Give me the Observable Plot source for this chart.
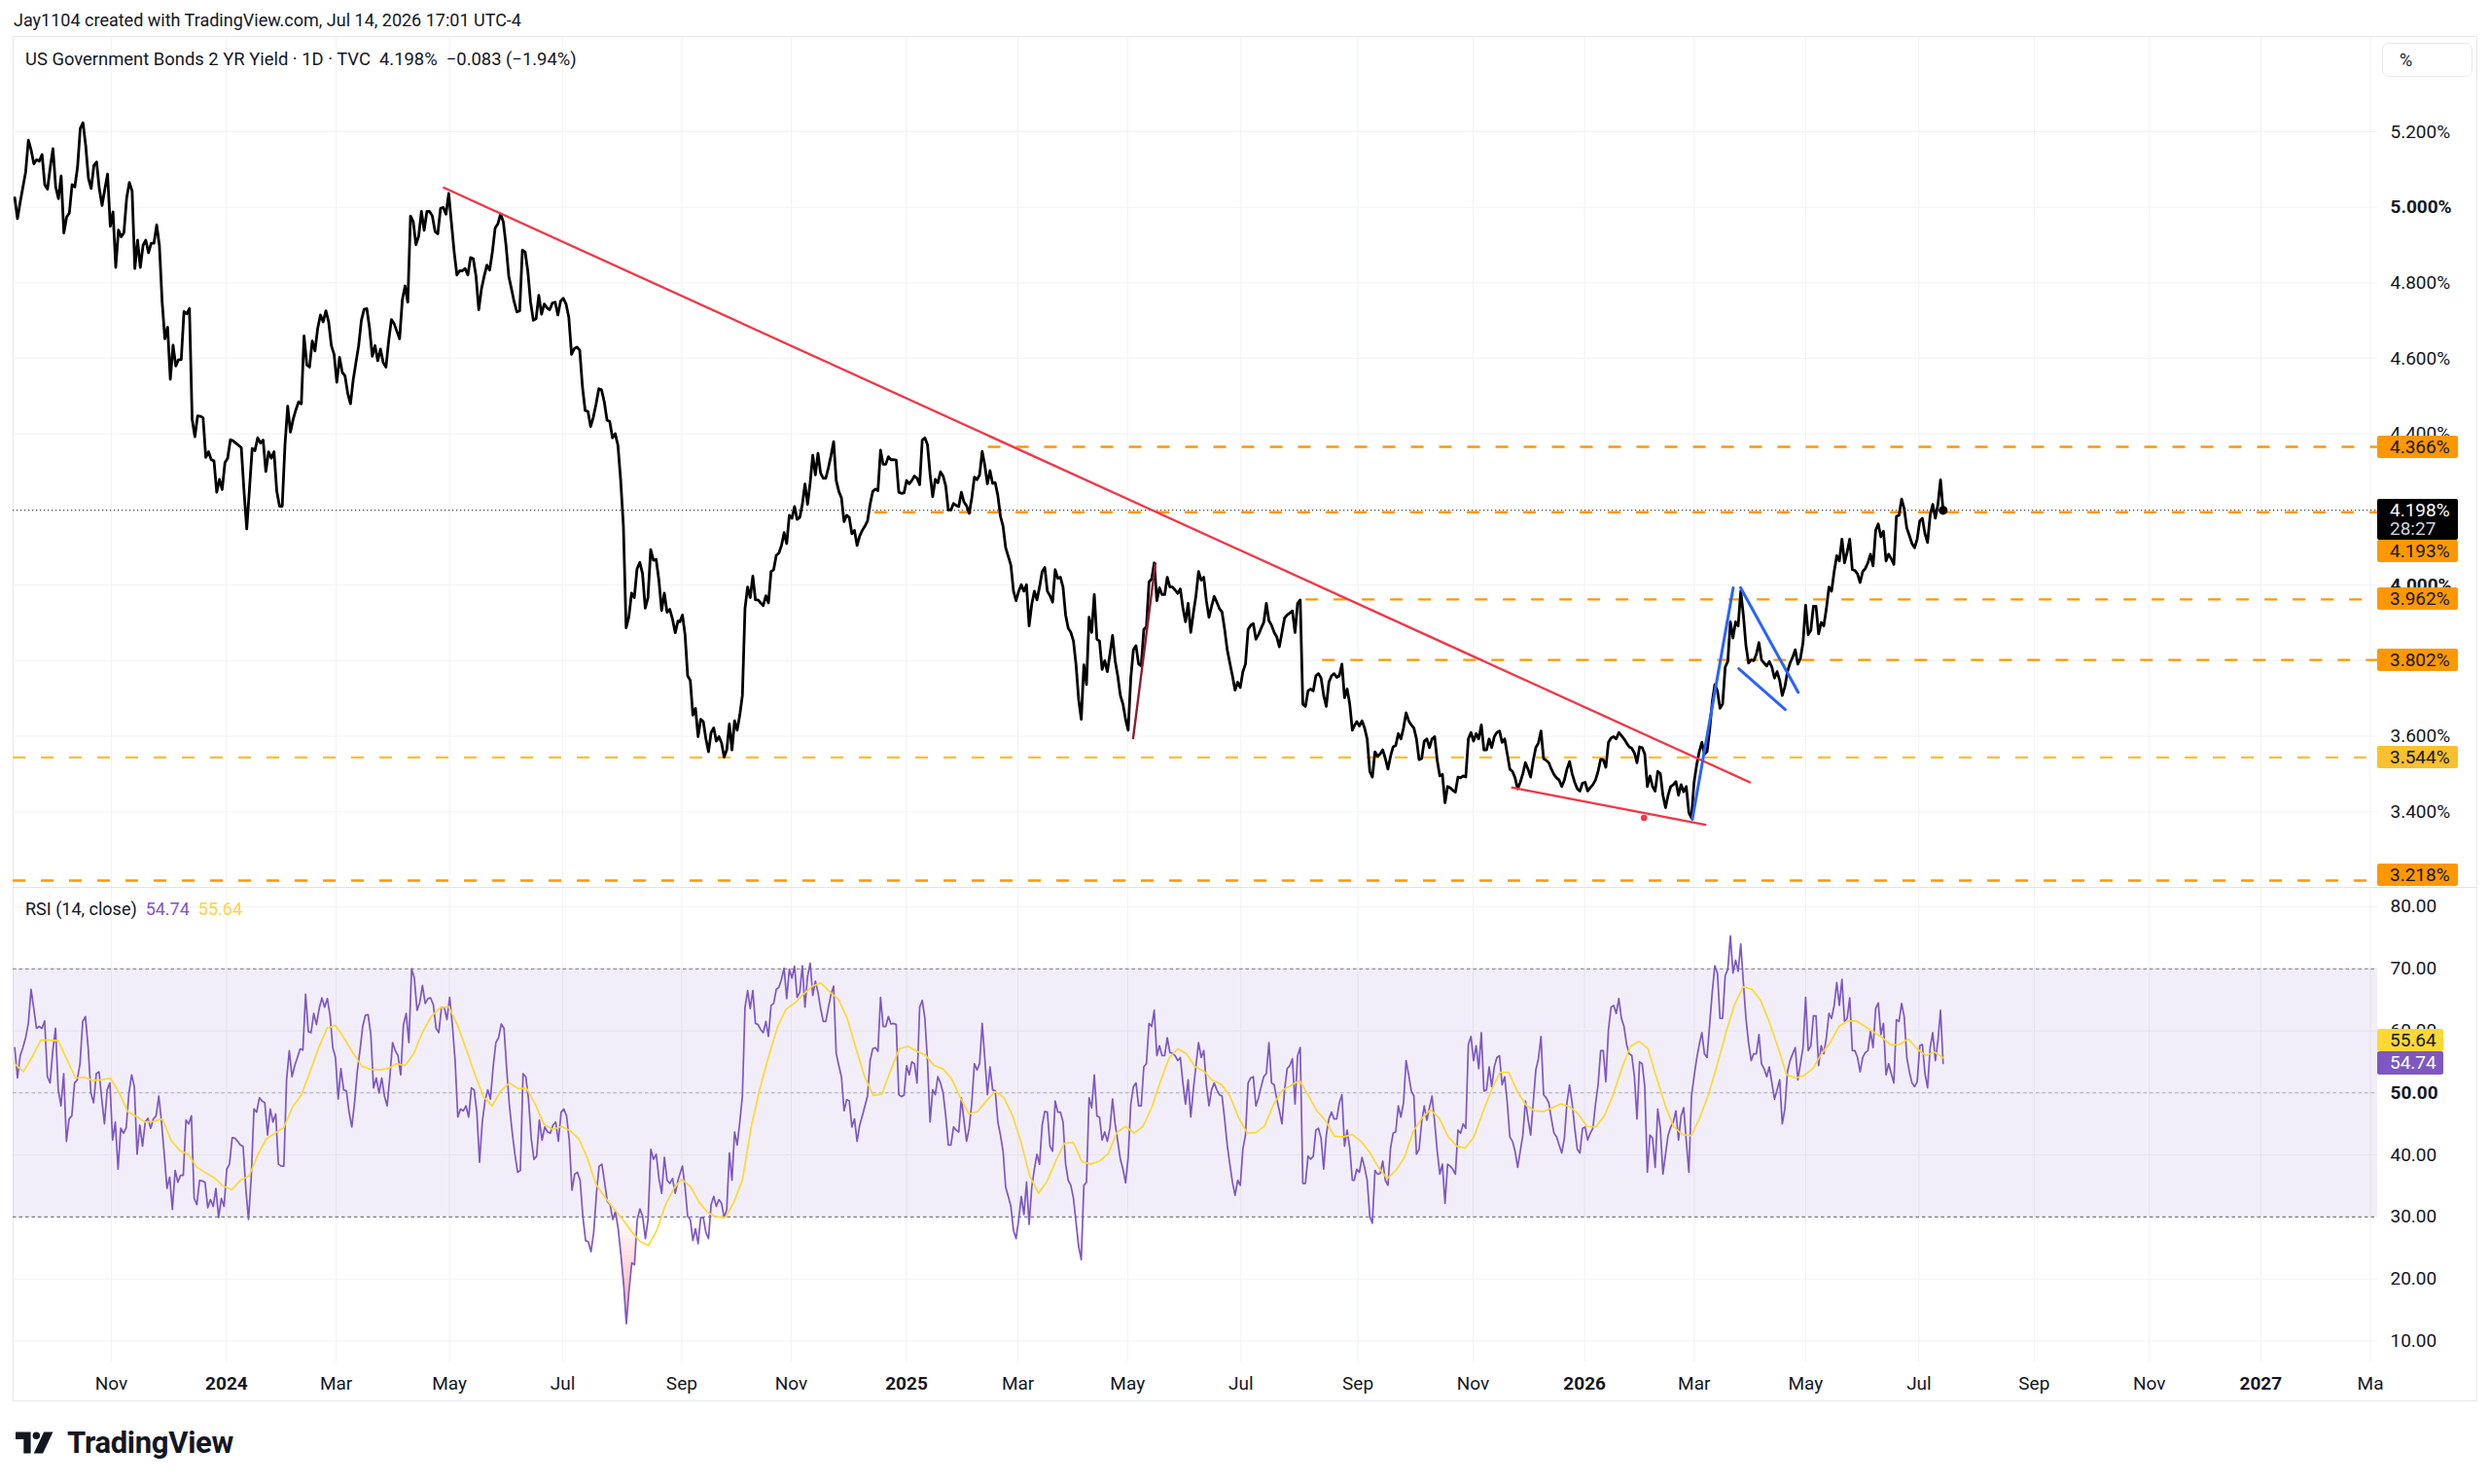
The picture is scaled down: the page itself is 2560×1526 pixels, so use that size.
<!DOCTYPE html>
<html>
<head>
<meta charset="utf-8">
<script src="https://cdn.jsdelivr.net/npm/d3@7"></script>
<script src="https://cdn.jsdelivr.net/npm/@observablehq/plot@0.6"></script>
<style>
html,body{margin:0;padding:0;background:#fff;}
body{width:2560px;height:1526px;position:relative;overflow:hidden;font-family:Roboto,"Noto Sans",sans-serif;color:#131722;}
.abs{position:absolute;}
#credit{left:14px;top:9px;font-size:18px;line-height:24px;white-space:nowrap;}
#frame{left:13px;top:37px;width:2534px;height:1404px;border:1px solid #e6e8ee;box-sizing:border-box;}
#legend{left:26px;top:49px;font-size:18.4px;line-height:24px;white-space:nowrap;}
#rsiLegend{left:26px;top:923px;font-size:18px;line-height:24px;white-space:nowrap;}
#pctBox{left:2449px;top:44px;width:93px;height:35px;border:1px solid #e6e8ee;border-radius:7px;box-sizing:border-box;font-size:18px;line-height:33px;padding-left:17px;}
#sep{left:13px;top:912px;width:2534px;height:0;border-top:1px solid #e0e3eb;}
.badge{position:absolute;left:2444px;width:83px;height:23px;line-height:23px;font-size:19px;padding-left:13px;box-sizing:border-box;border-radius:2px;white-space:nowrap;}
#logo{left:16px;top:1469px;}
#logoText{left:69px;top:1465px;font-size:31px;font-weight:700;line-height:38px;letter-spacing:-0.3px;}
svg{overflow:visible;}
</style>
</head>
<body>
<div id="credit" class="abs">Jay1104 created with TradingView.com, Jul 14, 2026 17:01 UTC-4</div>
<div id="frame" class="abs"></div>
<div id="mainWrap" class="abs" style="left:13px;top:37px;"></div>
<div id="rsiWrap" class="abs" style="left:13px;top:912px;"></div>
<div id="sep" class="abs"></div>
<div id="legend" class="abs">US Government Bonds 2 YR Yield · 1D · TVC&nbsp; 4.198%&nbsp; −0.083 (−1.94%)</div>
<div id="rsiLegend" class="abs">RSI (14, close)&nbsp; <span style="color:#7e57c2">54.74</span>&nbsp; <span style="color:#f9d34a">55.64</span></div>
<div id="pctBox" class="abs">%</div>
<svg id="logo" class="abs" width="52" height="28" viewBox="0 0 50 26">
  <path d="M0 3 H15 V24 H8 V10 H0 Z" fill="#131722"/>
  <circle cx="20.5" cy="6.5" r="3.6" fill="#131722"/>
  <path d="M28 3 H37 L27 24 H18 Z" fill="#131722"/>
</svg>
<div id="logoText" class="abs">TradingView</div>
<script>
// ---------- DATA ----------
// daily closes of the US 2Y yield (%), in three segments with their date spans
const priceSeg1 = [5.025,4.97,5.014,5.054,5.094,5.178,5.152,5.115,5.126,5.122,5.14,5.06,5.048,5.106,5.155,5.054,5.023,5.083,4.932,4.974,4.985,5.06,5.054,5.106,5.209,5.224,5.163,5.077,5.05,5.111,5.12,5.048,5.005,5.048,5.088,4.95,4.988,4.841,4.94,4.922,4.933,5.025,5.066,5.043,4.838,4.913,4.841,4.899,4.913,4.88,4.905,4.905,4.954,4.899,4.75,4.652,4.683,4.545,4.635,4.58,4.597,4.597,4.724,4.718,4.732,4.439,4.393,4.448,4.447,4.443,4.338,4.353,4.332,4.329,4.246,4.28,4.253,4.324,4.336,4.385,4.382,4.376,4.37,4.364,4.249,4.149,4.255,4.362,4.356,4.39,4.376,4.384,4.301,4.353,4.336,4.353,4.249,4.209,4.209,4.37,4.474,4.405,4.439,4.464,4.485,4.48,4.66,4.583,4.577,4.646,4.62,4.68,4.715,4.697,4.726,4.697,4.634,4.611,4.537,4.603,4.563,4.554,4.508,4.48,4.543,4.589,4.634,4.701,4.73,4.732,4.68,4.606,4.634,4.594,4.625,4.589,4.577,4.646,4.703,4.692,4.672,4.652,4.755,4.792,4.749,4.977,4.962,4.901,4.924,4.989,4.939,4.989,4.989,4.977,4.936,4.93,4.997,5.0,4.982,5.037,4.959,4.882,4.821,4.832,4.832,4.838,4.821,4.867,4.864,4.818,4.729,4.784,4.818,4.847,4.834,4.882,4.945,4.956,4.982,4.962,4.899,4.818,4.784,4.749,4.723,4.726,4.887,4.882,4.83,4.749,4.701,4.705,4.767,4.717,4.744,4.734,4.729,4.747,4.749,4.715,4.752,4.759,4.744,4.709,4.611,4.626,4.63,4.622,4.525,4.462,4.46,4.42,4.445,4.48,4.52,4.517,4.485,4.437,4.433,4.39,4.401,4.37,4.278,4.157,3.887,3.916,3.979,3.967,4.043,4.06,4.031,3.939,3.967,4.094,4.066,4.068,4.014,3.933,3.979,3.928,3.936,3.91,3.874,3.905];
const priceSeg2 = [3.903,3.921,3.869,3.76,3.748,3.656,3.674,3.599,3.645,3.639,3.593,3.559,3.61,3.622,3.587,3.599,3.582,3.545,3.564,3.633,3.564,3.641,3.616,3.656,3.708,3.938,3.995,3.967,4.024,3.961,3.961,3.953,3.946,3.972,3.953,4.036,4.041,4.079,4.085,4.105,4.139,4.11,4.185,4.177,4.208,4.174,4.179,4.214,4.268,4.214,4.271,4.344,4.292,4.349,4.297,4.283,4.283,4.311,4.343,4.38,4.277,4.248,4.231,4.168,4.185,4.179,4.136,4.145,4.105,4.13,4.145,4.156,4.17,4.214,4.248,4.254,4.25,4.357,4.32,4.32,4.34,4.332,4.332,4.331,4.246,4.243,4.244,4.277,4.268,4.277,4.289,4.283,4.266,4.384,4.39,4.372,4.294,4.234,4.28,4.271,4.3,4.289,4.263,4.199,4.199,4.216,4.211,4.208,4.246,4.22,4.21,4.19,4.231,4.286,4.279,4.292,4.354,4.317,4.268,4.303,4.269,4.271,4.237,4.182,4.156,4.099,4.076,4.053,3.984,3.959,3.984,4.001,3.984,4.001,3.892,3.949,3.984,3.961,3.995,4.036,4.047,3.984,3.972,3.955,4.041,4.018,4.021,3.995,3.921,3.886,3.875,3.852,3.789,3.697,3.645,3.789,3.737,3.915,3.875,3.975,3.857,3.852,3.777,3.8,3.771,3.817,3.867,3.8,3.76,3.708,3.685,3.645,3.616,3.754,3.829,3.84,3.791,3.786,3.883,3.89,4.009,4.016,4.059,3.959,3.993,3.975,3.975,4.021,3.995,3.995,3.987,3.978,3.99,3.94,3.903,3.952,3.875,3.926,3.972,4.036,4.013,4.021,3.959,3.915,3.944,3.97,3.955,3.938,3.929,3.883,3.829,3.794,3.76,3.722,3.743,3.729,3.771,3.791,3.883,3.894,3.898,3.857,3.869,3.886,3.901,3.952,3.906,3.894,3.875,3.863,3.837,3.875,3.913,3.921,3.926,3.932,3.875,3.952,3.961,3.685,3.679,3.72,3.725,3.72,3.76,3.766,3.754,3.708,3.679,3.743,3.76,3.766,3.756,3.76,3.791,3.702,3.725,3.685,3.616];
const priceSeg3 = [3.627,3.639,3.627,3.641,3.622,3.593,3.507,3.492,3.559,3.547,3.553,3.564,3.541,3.513,3.547,3.572,3.576,3.607,3.593,3.622,3.662,3.641,3.63,3.622,3.593,3.538,3.541,3.587,3.593,3.57,3.593,3.599,3.536,3.495,3.499,3.424,3.467,3.464,3.457,3.452,3.492,3.49,3.495,3.492,3.593,3.61,3.587,3.607,3.593,3.63,3.564,3.564,3.593,3.57,3.599,3.61,3.614,3.584,3.593,3.553,3.513,3.507,3.49,3.461,3.478,3.501,3.53,3.513,3.492,3.536,3.57,3.582,3.614,3.541,3.536,3.53,3.513,3.499,3.49,3.484,3.467,3.484,3.513,3.533,3.501,3.478,3.461,3.455,3.476,3.478,3.455,3.464,3.472,3.484,3.507,3.539,3.538,3.518,3.584,3.595,3.599,3.593,3.61,3.602,3.593,3.582,3.572,3.568,3.556,3.53,3.572,3.57,3.553,3.467,3.495,3.467,3.455,3.507,3.501,3.444,3.411,3.444,3.467,3.472,3.48,3.444,3.472,3.453,3.467,3.398,3.384,3.478,3.524,3.559,3.584,3.553,3.559,3.616,3.691,3.737,3.72,3.674,3.685,3.783,3.798,3.903,3.86,3.903,3.892,3.984,3.921,3.84,3.794,3.802,3.8,3.817,3.848,3.802,3.794,3.786,3.798,3.783,3.754,3.771,3.748,3.708,3.731,3.771,3.794,3.809,3.829,3.791,3.806,3.848,3.947,3.869,3.88,3.944,3.944,3.871,3.901,3.892,3.938,3.995,3.984,4.036,4.078,4.064,4.122,4.059,4.087,4.122,4.041,4.039,4.03,4.007,4.036,4.044,4.059,4.082,4.051,4.145,4.162,4.128,4.143,4.064,4.082,4.07,4.055,4.182,4.185,4.228,4.202,4.151,4.131,4.11,4.099,4.122,4.17,4.177,4.136,4.113,4.185,4.214,4.177,4.214,4.279,4.198];
const priceSpans = [["2023-09-10","2024-09-01"],["2024-09-02","2025-08-30"],["2025-08-31","2026-07-14"]];

// RSI(14) and its moving average
const rsiSeg1 = [57.3,52.4,56.0,57.3,58.9,61.2,66.7,63.6,60.4,60.7,60.4,61.6,52.6,51.6,56.8,60.4,50.5,47.9,53.1,42.2,45.8,46.3,51.6,52.1,54.7,61.5,62.3,57.3,50.0,48.4,53.1,53.4,49.0,45.0,50.5,51.6,42.4,45.3,37.7,44.3,43.5,44.4,50.0,52.9,51.0,40.1,44.8,41.4,45.3,45.9,44.3,45.8,46.3,49.5,45.3,40.1,34.6,36.4,31.2,37.5,35.6,36.7,36.7,45.6,45.0,46.3,33.0,32.0,35.9,35.8,35.6,31.5,32.8,31.7,34.6,29.9,33.0,31.7,37.7,38.5,42.8,42.7,42.2,41.6,41.4,34.6,29.6,36.4,47.4,46.9,49.2,48.7,48.4,43.2,47.4,45.3,46.6,38.5,38.2,38.2,52.1,56.8,52.6,54.4,55.7,57.1,56.9,65.9,59.9,59.7,62.8,61.0,63.6,65.3,63.8,65.2,62.5,57.3,55.7,49.0,53.9,50.5,50.3,46.9,44.5,48.4,53.4,56.8,60.7,62.5,62.6,59.4,50.8,52.4,50.0,52.4,49.5,47.9,52.6,58.1,56.8,56.0,52.9,61.0,62.8,58.1,70.0,68.5,63.3,64.6,67.3,64.4,65.2,65.3,64.2,60.4,59.7,63.8,63.8,61.8,65.4,61.0,55.2,46.1,47.4,47.1,47.9,46.1,50.8,50.5,46.9,38.8,45.3,48.7,50.5,49.0,54.2,58.1,58.9,61.1,60.4,53.7,47.9,43.7,40.1,37.2,37.5,53.1,52.6,49.0,42.7,39.3,39.8,45.6,42.4,44.5,43.7,43.5,44.8,45.3,42.2,46.9,47.4,46.3,42.4,34.3,36.9,37.2,35.9,30.1,26.2,26.0,24.4,27.5,33.8,38.2,38.5,35.6,32.5,32.0,29.6,30.9,28.1,23.9,19.2,12.8,18.2,22.6,22.3,29.6,31.3,30.1,26.5,29.6,40.9,39.3,40.1,36.2,33.8,39.6,35.9,35.4,36.2,33.8,35.9];
const rsiSeg2 = [36.9,38.2,34.8,30.1,29.6,26.2,28.1,25.7,29.9,29.9,27.5,26.5,32.0,33.3,31.7,32.8,32.2,29.9,31.2,40.3,35.9,43.7,41.6,45.3,49.5,63.8,66.5,63.6,66.5,61.2,61.0,60.2,59.7,61.5,59.1,64.1,64.4,66.7,67.0,68.3,70.1,65.2,69.9,68.5,70.4,65.4,66.2,70.5,63.8,68.8,70.9,65.7,68.0,66.2,63.6,61.5,61.5,63.8,65.9,67.2,56.3,54.4,52.6,47.1,48.9,48.7,44.5,45.8,42.2,44.8,46.3,47.9,49.5,55.2,57.1,57.3,56.7,65.4,60.7,60.7,62.3,61.1,61.2,61.0,49.7,49.4,49.6,54.4,52.9,55.0,54.7,51.6,63.8,64.9,62.0,55.2,45.3,50.5,49.7,52.6,51.6,50.0,46.3,41.6,41.6,44.5,44.0,43.7,49.2,45.6,42.2,44.3,48.4,54.7,53.7,54.7,61.2,55.5,49.7,54.2,50.5,50.3,45.3,43.2,40.6,34.8,33.3,31.7,27.8,26.5,29.6,33.3,30.4,35.6,28.8,34.8,37.7,40.1,38.5,44.8,47.0,46.9,41.4,40.6,48.7,46.9,46.9,45.3,38.5,35.9,35.1,33.0,29.1,25.2,23.1,35.1,35.6,49.2,47.6,52.9,46.3,46.1,42.4,43.7,42.2,44.3,49.0,45.0,42.2,39.3,37.7,35.5,39.6,48.2,51.0,51.6,47.9,47.9,54.2,54.7,61.2,60.7,63.3,56.0,57.6,56.0,56.0,58.9,56.5,56.4,56.0,55.2,55.7,51.6,48.2,52.1,46.1,50.5,54.4,58.1,55.7,56.8,51.3,47.9,50.5,51.6,50.5,49.7,49.5,45.8,41.6,38.5,35.6,33.5,35.9,35.1,40.9,43.2,51.6,52.4,52.6,47.9,49.2,51.0,52.6,53.1,58.1,51.6,51.3,49.0,47.1,45.0,50.5,53.9,54.4,55.5,48.2,56.0,57.3,35.4,35.4,39.8,39.3,39.8,44.0,44.3,42.7,37.7,43.2,45.8,46.9,45.8,45.8,48.4,49.7,41.4,44.0,41.1,35.9];
const rsiSeg3 = [35.9,37.7,37.2,39.6,38.0,35.9,30.1,29.0,37.5,36.9,37.0,39.0,35.9,35.1,41.1,43.5,43.7,47.9,46.1,48.4,55.2,52.9,50.3,49.5,40.1,40.9,45.3,47.9,45.6,47.6,49.5,45.3,40.6,36.9,38.5,32.2,38.5,38.2,37.7,36.9,44.0,43.5,45.0,44.3,57.8,59.1,55.2,57.6,53.9,59.7,50.3,50.5,54.2,51.0,54.2,55.7,56.0,51.3,52.6,48.4,42.9,42.2,40.6,38.0,40.6,43.2,48.7,45.8,43.2,48.4,53.7,55.5,59.1,49.7,49.2,48.4,45.8,43.5,42.9,41.6,40.3,42.7,48.4,51.3,48.4,44.3,40.9,40.3,44.3,44.5,42.4,43.5,44.3,48.2,51.3,56.8,56.8,51.8,60.2,63.8,64.1,62.8,65.2,62.0,60.7,57.8,56.3,56.0,52.6,45.8,55.0,54.7,51.0,37.2,43.2,42.7,38.0,47.4,44.3,36.9,40.1,43.2,44.5,45.3,47.1,42.4,46.3,47.6,42.2,37.2,49.5,52.6,55.5,57.8,59.7,56.3,55.7,61.0,66.2,70.5,69.3,62.0,62.0,68.9,69.9,75.3,69.3,71.4,69.6,74.0,67.8,62.0,58.1,55.2,56.3,56.3,59.4,54.7,53.9,52.6,54.2,51.6,49.0,50.5,52.1,45.0,47.4,53.4,55.2,56.3,57.3,52.1,54.7,57.3,65.4,56.8,57.6,62.4,62.4,54.4,57.6,56.3,58.9,62.8,62.0,64.1,67.8,64.1,68.3,61.5,62.0,65.3,56.8,56.8,55.7,53.4,55.7,56.5,56.8,59.9,57.3,63.6,64.5,59.4,61.2,52.9,54.7,53.1,51.6,61.8,61.5,64.4,62.3,55.7,53.4,51.6,51.0,51.8,57.6,57.8,53.1,50.8,57.3,59.7,55.2,58.4,63.3,54.74];
const rsiSpans = [["2023-09-10","2024-09-01"],["2024-09-02","2025-08-30"],["2025-08-31","2026-07-14"]];
const maSeg1 = [54.7,53.4,55.8,58.5,58.5,58.4,55.4,52.4,52.5,52.0,52.1,52.4,50.1,47.0,46.2,45.3,45.4,45.8,42.4,40.7,40.1,38.0,37.1,36.3,35.0,34.4,35.9,36.6,40.0,42.6,43.5,44.4,47.7,49.6,53.3,57.2,60.5,60.8,58.7,56.4,54.3,53.8,53.7,53.9,54.7,54.4,56.4,59.8,62.3,63.7,63.9,61.0,57.1,53.1,49.4,47.9,50.3,51.6,50.7,50.7,48.1,44.9,44.1,44.6,43.9,42.6,39.4,35.2,33.2,31.4,29.7,27.8,26.1,25.4,27.9,32.0,34.7];
const maSeg2 = [36.1,34.9,32.4,30.7,30.0,29.9,32.4,36.1,44.6,50.8,55.9,60.6,63.5,64.5,65.9,67.2,67.7,66.3,65.1,62.1,57.3,52.7,49.6,49.8,53.6,57.1,57.5,56.7,56.1,54.4,53.9,52.3,49.3,46.6,47.0,48.7,50.2,49.3,46.4,42.0,36.6,33.8,35.8,39.1,41.9,42.0,38.9,38.5,39.0,40.2,43.6,44.6,43.5,44.6,47.6,51.8,55.6,57.1,56.3,54.2,53.5,52.0,51.4,49.5,46.0,43.5,43.6,44.7,48.1,50.4,51.2,52.0,49.6,47.1,45.5,43.0,42.9];
const maSeg3 = [43.3,42.2,40.4,38.0,36.2,37.5,39.6,43.8,45.9,47.3,45.9,43.0,41.4,41.1,42.9,46.8,50.4,53.3,53.3,50.2,48.0,47.1,47.0,47.6,48.2,47.8,46.6,44.6,44.5,46.3,49.6,53.9,57.5,58.3,57.2,52.5,48.0,44.5,43.3,43.1,46.0,49.8,54.5,59.7,64.3,67.1,66.7,64.9,61.4,57.3,52.9,52.4,52.8,53.9,56.3,58.1,60.7,61.6,61.6,60.7,59.8,58.9,57.7,57.8,58.7,57.1,56.0,56.6,55.64];
const maSpans = [["2023-09-10","2024-08-30"],["2024-09-03","2025-08-25"],["2025-08-30","2026-07-14"]];

// horizontal levels drawn on the chart
const levelValues = [4.366, 4.193, 3.962, 3.802, 3.544, 3.218];
const levelStarts = ["2025-02-15", "2024-12-16", "2025-08-05", "2025-08-14", null, null];
const levelColors = ["#ff9800", "#ff9800", "#ff9800", "#ff9800", "#fbc02d", "#ff9800"];
const lastClose = 4.198;
const lastCountdown = "28:27";

// drawings
const redTrendUpper = [["2024-04-28", 5.052], ["2026-04-01", 3.478]];
const redTrendLower = [["2025-11-24", 3.464], ["2026-03-08", 3.366]];
const maroonLine = [["2025-05-04", 3.595], ["2025-05-16", 4.058]];
const blueLine1 = [["2026-03-01", 3.380], ["2026-03-23", 3.993]];
const blueLine2 = [["2026-03-27", 3.993], ["2026-04-27", 3.716]];
const blueLine3 = [["2026-03-26", 3.779], ["2026-04-20", 3.671]];
const redDot = [["2026-02-03", 3.384]];

// axes
const priceTicks = [3.4, 3.6, 3.8, 4.0, 4.2, 4.4, 4.6, 4.8, 5.0, 5.2];
const boldPriceTicks = [4.0, 5.0];
const rsiTicks = [10, 20, 30, 40, 50, 60, 70, 80];
const rsiBands = [30, 70];
const rsiMid = 50;
const rsiLast = 54.74, rsiMaLast = 55.64;
const tickDates = ["2023-11-01","2024-01-02","2024-03-01","2024-05-01","2024-07-01","2024-09-03","2024-11-01","2025-01-02","2025-03-03","2025-05-01","2025-07-01","2025-09-02","2025-11-03","2026-01-02","2026-03-02","2026-05-01","2026-07-01","2026-09-01","2026-11-02","2027-01-01","2027-03-01"];
const tickLabels = ["Nov","2024","Mar","May","Jul","Sep","Nov","2025","Mar","May","Jul","Sep","Nov","2026","Mar","May","Jul","Sep","Nov","2027","Ma"];
const yearLabels = ["2024","2025","2026","2027"];
const xDomain = [new Date("2023-09-09T03:00:00Z"), new Date("2027-03-04T21:36:00Z")];

// ---------- BUILD ----------
const D = s => new Date(s + "T00:00:00Z");
function spread(values, span) {
  const t0 = +D(span[0]), t1 = +D(span[1]), n = values.length;
  return values.map((v, i) => ({date: new Date(t0 + (t1 - t0) * i / (n - 1)), value: v}));
}
const price = [...spread(priceSeg1, priceSpans[0]), ...spread(priceSeg2, priceSpans[1]), ...spread(priceSeg3, priceSpans[2])];
const rsi = [...spread(rsiSeg1, rsiSpans[0]), ...spread(rsiSeg2, rsiSpans[1]), ...spread(rsiSeg3, rsiSpans[2])];
const rsiMa = [...spread(maSeg1, maSpans[0]), ...spread(maSeg2, maSpans[1]), ...spread(maSeg3, maSpans[2])];
const levels = levelValues.map((v, i) => ({value: v, start: levelStarts[i] ? D(levelStarts[i]) : xDomain[0], end: xDomain[1], color: levelColors[i]}));
const ticks = tickDates.map((d, i) => ({date: D(d), label: tickLabels[i], bold: yearLabels.includes(tickLabels[i])}));
const seg = (pts, id) => pts.map(p => ({date: D(p[0]), value: p[1], id}));
const blues = [...seg(blueLine1, 1), ...seg(blueLine2, 2), ...seg(blueLine3, 3)];
const lastPoint = price[price.length - 1];

const grid = "#f0f2f6";
const W = 2534, RIGHT = 103;
const fmtP = d => d.toFixed(3) + "%";
const fmtR = d => d.toFixed(2);
const font = {fontFamily: "Roboto, 'Noto Sans', sans-serif", fontSize: "19px", color: "#131722", background: "transparent", overflow: "visible"};

const main = Plot.plot({
  width: W, height: 875,
  marginLeft: 0, marginRight: RIGHT, marginTop: 0, marginBottom: 0,
  style: font,
  x: {type: "utc", domain: xDomain, axis: null},
  y: {domain: [3.2, 5.4523], axis: null},
  marks: [
    Plot.ruleX(ticks, {x: "date", stroke: grid, strokeWidth: 1}),
    Plot.ruleY(priceTicks, {stroke: grid, strokeWidth: 1}),
    Plot.ruleY([lastClose], {x1: xDomain[0], x2: xDomain[1], stroke: "#131722", strokeWidth: 1, strokeDasharray: "1.2,2.8"}),
    Plot.ruleY(levels, {y: "value", x1: "start", x2: "end", stroke: "color", strokeWidth: 2.3, strokeDasharray: "13,16"}),
    Plot.line(price, {x: "date", y: "value", stroke: "#000", strokeWidth: 2.8, strokeLinejoin: "round"}),
    Plot.line(seg(maroonLine, 0), {x: "date", y: "value", stroke: "#8b1e2e", strokeWidth: 2.4}),
    Plot.line(seg(redTrendUpper, 0), {x: "date", y: "value", stroke: "#f23645", strokeWidth: 2.3}),
    Plot.line(seg(redTrendLower, 0), {x: "date", y: "value", stroke: "#f23645", strokeWidth: 2.3}),
    Plot.line(blues, {x: "date", y: "value", z: "id", stroke: "#2962ff", strokeWidth: 3}),
    Plot.dot(seg(redDot, 0), {x: "date", y: "value", r: 3.3, fill: "#f23645"}),
    Plot.dot([lastPoint], {x: "date", y: "value", r: 4.6, fill: "#000"}),
    Plot.text(priceTicks.filter(t => !boldPriceTicks.includes(t)), {y: d => d, text: fmtP, frameAnchor: "right", dx: 13, textAnchor: "start", lineAnchor: "middle", fill: "#131722"}),
    Plot.text(boldPriceTicks, {y: d => d, text: fmtP, frameAnchor: "right", dx: 13, textAnchor: "start", lineAnchor: "middle", fill: "#131722", fontWeight: "bold"})
  ]
});
document.getElementById("mainWrap").append(main);

const gradDefs = (index, scales) => {
  const ns = "http://www.w3.org/2000/svg";
  const defs = document.createElementNS(ns, "defs");
  const mk = (id, from, to, color) => {
    const g = document.createElementNS(ns, "linearGradient");
    g.setAttribute("id", id); g.setAttribute("gradientUnits", "userSpaceOnUse");
    g.setAttribute("x1", 0); g.setAttribute("x2", 0);
    g.setAttribute("y1", scales.y(from)); g.setAttribute("y2", scales.y(to));
    [[0, 0], [1, 0.75]].forEach(([o, a]) => {
      const s = document.createElementNS(ns, "stop");
      s.setAttribute("offset", o); s.setAttribute("stop-color", color); s.setAttribute("stop-opacity", a);
      g.append(s);
    });
    defs.append(g);
  };
  mk("rsiLow", 30, 0, "#f23645");
  mk("rsiHigh", 70, 100, "#089981");
  return defs;
};

const rsiPlot = Plot.plot({
  width: W, height: 528,
  marginLeft: 0, marginRight: RIGHT, marginTop: 0, marginBottom: 40,
  style: font,
  x: {type: "utc", domain: xDomain, axis: null},
  y: {domain: [6.63, 83.12], axis: null},
  marks: [
    gradDefs,
    Plot.ruleX(ticks, {x: "date", stroke: grid, strokeWidth: 1}),
    Plot.ruleY(rsiTicks, {stroke: grid, strokeWidth: 1}),
    Plot.rect([{a: rsiBands[0], b: rsiBands[1]}], {x1: xDomain[0], x2: xDomain[1], y1: "a", y2: "b", fill: "#7e57c2", fillOpacity: 0.1}),
    Plot.ruleY(rsiBands, {stroke: "#787b86", strokeWidth: 1.1, strokeDasharray: "3.5,3"}),
    Plot.ruleY([rsiMid], {stroke: "#787b86", strokeOpacity: 0.55, strokeWidth: 1.1, strokeDasharray: "3.5,3"}),
    Plot.areaY(rsi, {x: "date", y1: 30, y2: d => Math.min(d.value, 30), fill: "url(#rsiLow)"}),
    Plot.areaY(rsi, {x: "date", y1: 70, y2: d => Math.max(d.value, 70), fill: "url(#rsiHigh)"}),
    Plot.line(rsi, {x: "date", y: "value", stroke: "#7e57c2", strokeWidth: 1.7}),
    Plot.line(rsiMa, {x: "date", y: "value", stroke: "#fdd835", strokeWidth: 1.7}),
    Plot.text(rsiTicks.filter(t => t !== rsiMid), {y: d => d, text: fmtR, frameAnchor: "right", dx: 13, textAnchor: "start", lineAnchor: "middle", fill: "#131722"}),
    Plot.text([rsiMid], {y: d => d, text: fmtR, frameAnchor: "right", dx: 13, textAnchor: "start", lineAnchor: "middle", fill: "#131722", fontWeight: "bold"}),
    Plot.text(ticks.filter(t => !t.bold), {x: "date", text: "label", frameAnchor: "bottom", dy: 22, textAnchor: "middle", lineAnchor: "middle", fill: "#131722"}),
    Plot.text(ticks.filter(t => t.bold), {x: "date", text: "label", frameAnchor: "bottom", dy: 22, textAnchor: "middle", lineAnchor: "middle", fill: "#131722", fontWeight: "bold"})
  ]
});
document.getElementById("rsiWrap").append(rsiPlot);

// ---------- right-axis badges placed with the plots' own y scales ----------
const PANE_BOTTOM = 912;
const yM = v => 37 + main.scale("y").apply(v);
const yR = v => 912 + rsiPlot.scale("y").apply(v);
function badge(text, top, bg, fg, width, height) {
  const b = document.createElement("div");
  b.className = "badge";
  b.textContent = text;
  b.style.top = top + "px"; b.style.background = bg; b.style.color = fg;
  if (width) b.style.width = width + "px";
  if (height) { b.style.height = height + "px"; }
  document.body.append(b);
  return b;
}
const BH = 23;
levels.forEach(l => {
  if (Math.abs(l.value - lastClose) < 0.02) return;
  const top = Math.min(yM(l.value) - BH / 2, PANE_BOTTOM - BH - 1);
  badge(fmtP(l.value), top, l.color, "#131722");
});
// last price box with countdown
const lastTop = yM(lastClose) - 11.5;
const lb = badge("", lastTop, "#000", "#fff", 83, 42);
lb.style.lineHeight = "19px"; lb.style.paddingTop = "2px";
lb.innerHTML = fmtP(lastClose) + "<br><span style='color:#d1d4dc'>" + lastCountdown + "</span>";
// the nearby level label is pushed below the last price box
const near = levels.find(l => Math.abs(l.value - lastClose) < 0.02);
badge(fmtP(near.value), lastTop + 42, near.color, "#131722");
// RSI badges
const purpleTop = yR(rsiLast) - 11.7;
badge(fmtR(rsiLast), purpleTop, "#7e57c2", "#ffffff", 68, 23.4);
badge(fmtR(rsiMaLast), purpleTop - 23.4, "#fdd835", "#131722", 68, 23.4);
</script>
</body>
</html>
